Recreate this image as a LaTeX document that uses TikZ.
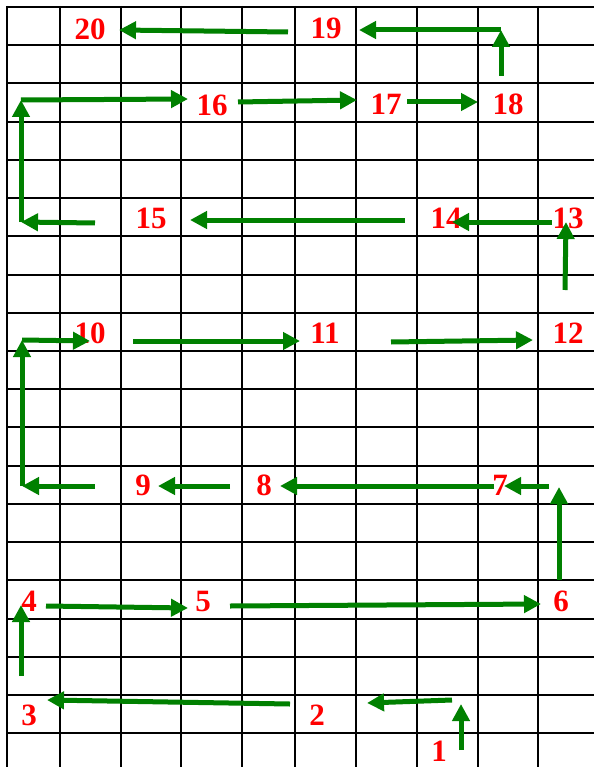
\documentclass[tikz,border=0pt]{standalone}
\usepackage{fontspec}
\setmainfont{Liberation Serif}
\usetikzlibrary{arrows.meta}
\definecolor{Leaf}{RGB}{0,128,0}
\definecolor{Mark}{RGB}{255,0,0}

\begin{document}
\begin{tikzpicture}[
  x=1pt, y=-1pt,
  gridline/.style={line width=2pt, black},
  num/.style={text=Mark, font=\fontsize{31}{31}\selectfont\bfseries, inner sep=0pt},
  move/.style={-{Triangle[length=17pt, width=17pt]}, line width=5pt, Leaf}
]
  \useasboundingbox (0,0) rectangle (594,767);
  % grid
  \foreach \x in {7,60,121,181,242,295,356,417,478,538}
    \draw[gridline] (\x,6) -- (\x,767);
  \foreach \k in {0,...,19}
    \draw[gridline] (6,7+38.22*\k) -- (594,7+38.22*\k);

  % numbered cells
  \foreach \k/\x/\y in {1/439/751, 2/317/715, 3/29/715, 4/29/601, 5/203/601,
      6/561/601, 7/500/485, 8/264/485, 9/143/485, 10/90/333, 11/325/333,
      12/568/333, 13/568/218, 14/446/218, 15/151/218, 16/212/105,
      17/386/104, 18/508/104, 19/326/28, 20/90/29}
    \node[num] (n\k) at (\x,\y) {\k};

  % ends and turns of the route
  \foreach \p/\x/\y in {p1/461/750, p2/461/704, p3/452/700, p4/367/703,
      p5/290/704, p6/47/700, p7/21/676, p8/21/605, p9/46/606, p10/188/608,
      p11/230/606, p12/541/604, p13/559/580, p14/559/487, p15/549/486,
      p16/504/486, p17/494/486, p18/280/486, p19/230/486, p20/158/486,
      p21/95/486, p22/22/486, p23/22/340, p24/90/341, p25/133/341,
      p26/300/341, p27/391/342, p28/533/340, p29/565/290, p30/566/222,
      p31/552/222, p32/452/222, p33/405/220, p34/190/220, p35/95/223,
      p36/21/222, p37/21/100, p38/188/99, p39/238/102, p40/357/100,
      p41/407/102, p42/478/102, p43/501/76, p44/501/30, p45/359/30,
      p46/288/32, p47/119/30}
    \coordinate (\p) at (\x,\y);

  % route
  \foreach \a/\b in {p1/p2, p3/p4, p5/p6, p7/p8, p9/p10, p11/p12, p13/p14,
      p15/p16, p17/p18, p19/p20, p21/p22, p22/p23, p23/p24, p25/p26,
      p27/p28, p29/p30, p31/p32, p33/p34, p35/p36, p36/p37, p37/p38,
      p39/p40, p41/p42, p43/p44, p44/p45, p46/p47}
    \draw[move] (\a) -- (\b);
\end{tikzpicture}
\end{document}
